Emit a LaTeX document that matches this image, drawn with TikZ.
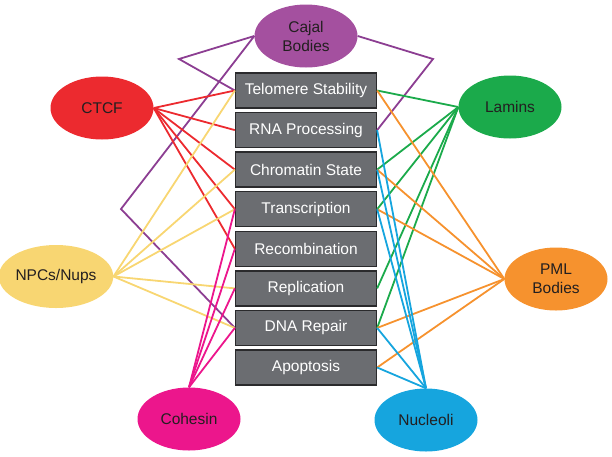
\documentclass[tikz,border=0pt]{standalone}
\usepackage{fontspec}
\setmainfont{Liberation Sans}
\usetikzlibrary{shapes.geometric}
\definecolor{boxfill}{HTML}{6B6D71}
\definecolor{boxedge}{HTML}{2A2A2C}
\definecolor{ink}{HTML}{231F20}
\definecolor{cajalc}{HTML}{A4509F}
\definecolor{cajall}{HTML}{8C3E92}
\definecolor{ctcfc}{HTML}{EC2A2F}
\definecolor{laminc}{HTML}{1BAA4B}
\definecolor{npcc}{HTML}{F8D672}
\definecolor{pmlc}{HTML}{F6922E}
\definecolor{cohc}{HTML}{EC168C}
\definecolor{nucc}{HTML}{16A5DE}
\begin{document}
\begin{tikzpicture}[x=1pt,y=-1pt,
  proc/.style={draw=boxedge, fill=boxfill, line width=1.3pt, minimum width=141pt, minimum height=35pt, inner sep=0pt, text=white, font=\fontsize{15.5}{18}\selectfont},
  blob/.style={ellipse, minimum width=103pt, minimum height=63pt, inner sep=0pt, text=ink, align=center, font=\fontsize{15.5}{19}\selectfont},
  link/.style={line width=1.8pt, line join=miter}]
\useasboundingbox (0,0) rectangle (612,456);
% process boxes
\node[proc] (telo) at (306,90.5) {Telomere Stability};
\node[proc] (rna)  at (306,130.1) {RNA Processing};
\node[proc] (chro) at (306,169.6) {Chromatin State};
\node[proc] (tran) at (306,209.2) {Transcription};
\node[proc] (reco) at (306,248.8) {Recombination};
\node[proc] (repl) at (306,288.4) {Replication};
\node[proc] (dnar) at (306,327.9) {DNA Repair};
\node[proc] (apop) at (306,367.5) {Apoptosis};
% bodies
\node[blob, fill=cajalc] (cajal) at (306,36) {Cajal\\Bodies};
\node[blob, fill=ctcfc] (ctcf) at (102,108) {CTCF};
\node[blob, fill=laminc] (lamin) at (510,107) {Lamins};
\node[blob, fill=npcc] (npc) at (56,276.5) {NPCs/Nups};
\node[blob, fill=pmlc] (pml) at (556,279) {PML\\Bodies};
\node[blob, fill=cohc] (coh) at (189,419) {Cohesin};
\node[blob, fill=nucc] (nuc) at (426,420) {Nucleoli};
% bend points
\coordinate (cj1) at (179,59);
\coordinate (cj2) at (121,209);
\coordinate (cj3) at (433,59);
% Cajal
\draw[link, cajall] (cajal.west) -- (cj1) -- (telo.west);
\draw[link, cajall] (cajal.west) -- (cj2) -- (dnar.west);
\draw[link, cajall] (cajal.east) -- (cj3) -- (rna.east);
% CTCF
\foreach \t in {telo,rna,chro,tran,reco}
  \draw[link, ctcfc] (ctcf.east) -- (\t.west);
% NPCs
\foreach \t in {telo,chro,tran,repl,dnar}
  \draw[link, npcc] (npc.east) -- (\t.west);
% Cohesin
\foreach \t in {tran,reco,repl,dnar}
  \draw[link, cohc] (coh.north) -- (\t.west);
% Lamins
\foreach \t in {telo,chro,tran,repl,dnar}
  \draw[link, laminc] (lamin.west) -- (\t.east);
% PML
\foreach \t in {telo,chro,tran,dnar,apop}
  \draw[link, pmlc] (pml.west) -- (\t.east);
% Nucleoli
\foreach \t in {rna,chro,tran,dnar,apop}
  \draw[link, nucc] (nuc.north) -- (\t.east);
\end{tikzpicture}
\end{document}
